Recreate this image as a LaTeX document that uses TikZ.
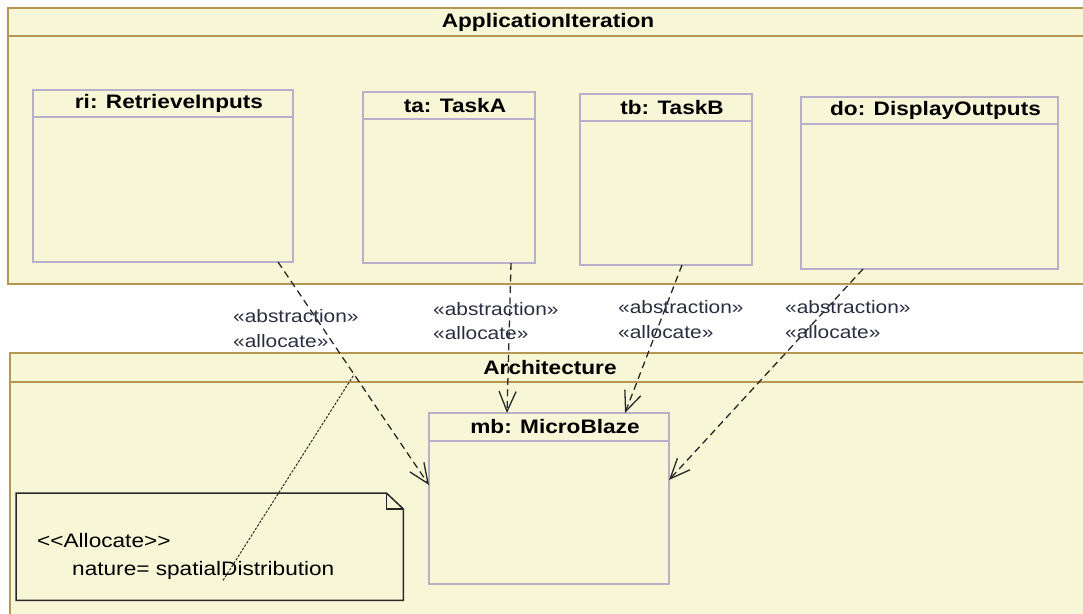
\documentclass[tikz,border=0pt]{standalone}
\usepackage{fontspec}
\usepackage{xcolor}
\usepackage{tikz}
\usetikzlibrary{positioning,arrows.meta,calc}
\newfontfamily\umlsans[FakeStretch=1.16]{Liberation Sans}
\definecolor{umlfill}{RGB}{247,247,215}
\definecolor{umlframe}{RGB}{181,151,82}
\definecolor{umlpart}{RGB}{184,176,200}
\definecolor{umlink}{RGB}{40,40,40}
\definecolor{stereotxt}{RGB}{45,45,65}

\begin{document}
\begin{tikzpicture}[x=1pt,y=-1pt,font=\umlsans\fontsize{19.5}{24}\selectfont,
  frame/.style={draw=umlframe,line width=2pt,fill=umlfill,inner sep=0pt,outer sep=0pt,anchor=north west},
  part/.style={draw=umlpart,line width=1.7pt,fill=umlfill,inner sep=0pt,outer sep=0pt,anchor=north west},
  title/.style={font=\umlsans\bfseries\fontsize{19.5}{24}\selectfont,inner sep=0pt},
  stereo/.style={text=stereotxt,align=left,anchor=west,inner sep=0pt,font=\umlsans\fontsize{18}{24.5}\selectfont},
  alloc/.style={draw=umlink,line width=1.3pt,dash pattern=on 7pt off 4.5pt,-{Straight Barb[length=20pt,width=17pt]}},
  notedraw/.style={draw=umlink,line width=1.5pt,fill=umlfill}]
  \useasboundingbox (0,0) rectangle (1083,613);
  \clip (0,0) rectangle (1083,613);
  % frames: name/x/y/w/h/header/title
  \foreach \n/\x/\y/\w/\h/\hd/\t in
    {app/8/8/1085/276/28/ApplicationIteration, arch/10/353/1090/290/29/Architecture} {
    \node[frame,minimum width=\w pt,minimum height=\h pt] (\n) at (\x,\y) {};
    \draw[umlframe,line width=2pt] ([yshift=-\hd pt]\n.north west) -- ([yshift=-\hd pt]\n.north east);
    \node[title] (\n-title) at ($(\x,\y)+(540,\hd/2)$) {\t};
  }
  % parts inside the frames
  \foreach \n/\x/\y/\w/\h/\hd/\t in
    {ri/33/90/260/172/27/{ri: RetrieveInputs}, ta/363/92/172/171/27/{ta: TaskA},
     tb/580/94/172/171/27/{tb: TaskB}, do/801/97/257/172/27/{do: DisplayOutputs},
     mb/429/413/240/171/28/{mb: MicroBlaze}} {
    \node[part,minimum width=\w pt,minimum height=\h pt] (\n) at (\x,\y) {};
    \draw[umlpart,line width=1.7pt] ([yshift=-\hd pt]\n.north west) -- ([yshift=-\hd pt]\n.north east);
    \node[title] (\n-title) at ($(\x,\y)+(\w/2+6,\hd/2)$) {\t};
  }
  % allocations
  \draw[alloc] ([xshift=-15pt]ri.south east) -- coordinate[pos=0.504] (rinote) ([yshift=-72pt]mb.north west);
  \draw[alloc] ([xshift=-24pt]ta.south east) -- ([xshift=78pt]mb.north west);
  \draw[alloc] ([xshift=102pt]tb.south west) -- ([xshift=-44pt]mb.north east);
  \draw[alloc] ([xshift=62pt]do.south west) -- ([yshift=-67pt]mb.north east);
  \foreach \n/\x/\y in {ri/233/328.5, ta/433/321, tb/618/319.5, do/785/319.5} {
    \node[stereo] (\n-lbl) at (\x,\y) {«abstraction»\\«allocate»};
  }
  % note
  \node[minimum width=387pt,minimum height=107pt,inner sep=0pt,anchor=north west] (note) at (16,493) {};
  \draw[notedraw] (note.north west) -- ([xshift=-17pt]note.north east) -- ([yshift=-16pt]note.north east)
    -- (note.south east) -- (note.south west) -- cycle;
  \draw[umlink,line width=1.3pt] ([xshift=-17pt]note.north east) |- ([yshift=-16pt]note.north east);
  \node[align=left,anchor=west,inner sep=0pt,font=\umlsans\fontsize{19.5}{28}\selectfont] (note-txt) at (37,556)
    {<<Allocate>>\\\hspace*{35pt}nature= spatialDistribution};
  \draw[umlink,line width=1pt,dash pattern=on 2.5pt off 1.5pt] ([xshift=207pt,yshift=20pt]note.south west) -- (rinote);
\end{tikzpicture}
\end{document}
